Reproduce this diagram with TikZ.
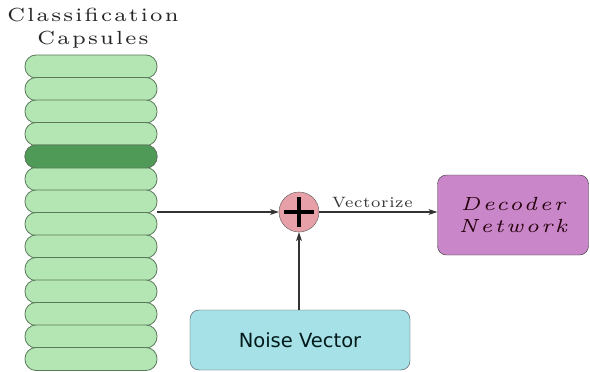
\documentclass[tikz,border=0pt]{standalone}
\usepackage{fontspec}
\usepackage{graphicx}
\usepackage{tikz}
\usetikzlibrary{arrows.meta,shapes,backgrounds}
\newfontfamily\titlefont{lmroman7-regular.otf}[LetterSpace=10]
\newfontfamily\labelfont{lmroman7-regular.otf}[LetterSpace=4]
\newfontfamily\decfont{lmroman7-italic.otf}[LetterSpace=12]
\newfontfamily\noisefont{DejaVu Sans}
\newcommand{\widen}[1]{\scalebox{1.15}[1]{#1}}
\definecolor{capgreen}{HTML}{B3E6B3}
\definecolor{capdark}{HTML}{4E9A56}
\definecolor{capline}{HTML}{5B7A5B}
\definecolor{pluspink}{HTML}{E8A0A8}
\definecolor{decpurple}{HTML}{C987C9}
\definecolor{noisecyan}{HTML}{A6E1E8}
\definecolor{wire}{HTML}{333333}

\begin{document}
\begin{tikzpicture}[x=1pt, y=-1pt]
	  \useasboundingbox (0,0) rectangle (590,372);
	  \tikzstyle{capsule} = [draw=capline, fill=capgreen, line width=0.8pt, rounded corners=11pt, minimum width=132pt, minimum height=23pt, inner sep=0pt]
	  \tikzstyle{wirearrow} = [draw=wire, line width=1.1pt, -{Stealth[length=9pt,width=6pt]}]
	  % capsule column
	  \foreach \i in {1,...,14}
	    \node[capsule] (c\i) at (91, 44+22.5*\i) {};
	  \node[capsule, fill=capdark] (c5) at (91, 156.5) {};
	  \node (title)[align=center, xscale=1.15, text=black!85, font=\titlefont\fontsize{19}{23}\selectfont, inner sep=0pt] at (93, 28) {Classification\\Capsules};
	  % sum node
	  \node (plus)[circle, draw=gray!70!black, fill=pluspink, minimum size=40pt, inner sep=0pt] at (299, 212) {};
	  \draw[line width=3.2pt] (plus.center) ++(-15,0) -- ++(30,0);
	  \draw[line width=3.2pt] (plus.center) ++(0,-15) -- ++(0,30);
	  \node (dec)[draw=gray!40!black, fill=decpurple, rounded corners=9pt, minimum width=151pt, minimum height=80pt, align=center, text=black!80!purple, font=\decfont\fontsize{19}{22}\selectfont] at (513, 215) {\widen{Decoder}\\\widen{Network}};
	  \node (noise)[draw=gray!60!black, fill=noisecyan, rounded corners=9pt, minimum width=220pt, minimum height=60pt, text=black!80!teal, font=\noisefont\fontsize{19.5}{22}\selectfont] at (300, 340) {Noise Vector};
	  \draw[wirearrow] (plus.west -| c7.east) -- (plus.west);
	  \draw[wirearrow] (plus.east) -- node[pos=0.45, above, inner sep=4pt, xscale=1.1, text=black!80, font=\labelfont\fontsize{15}{17}\selectfont] {Vectorize} (plus.east -| dec.west);
	  \draw[wirearrow] (noise.north -| plus) -- (plus.south);
	\end{tikzpicture}
\end{document}
